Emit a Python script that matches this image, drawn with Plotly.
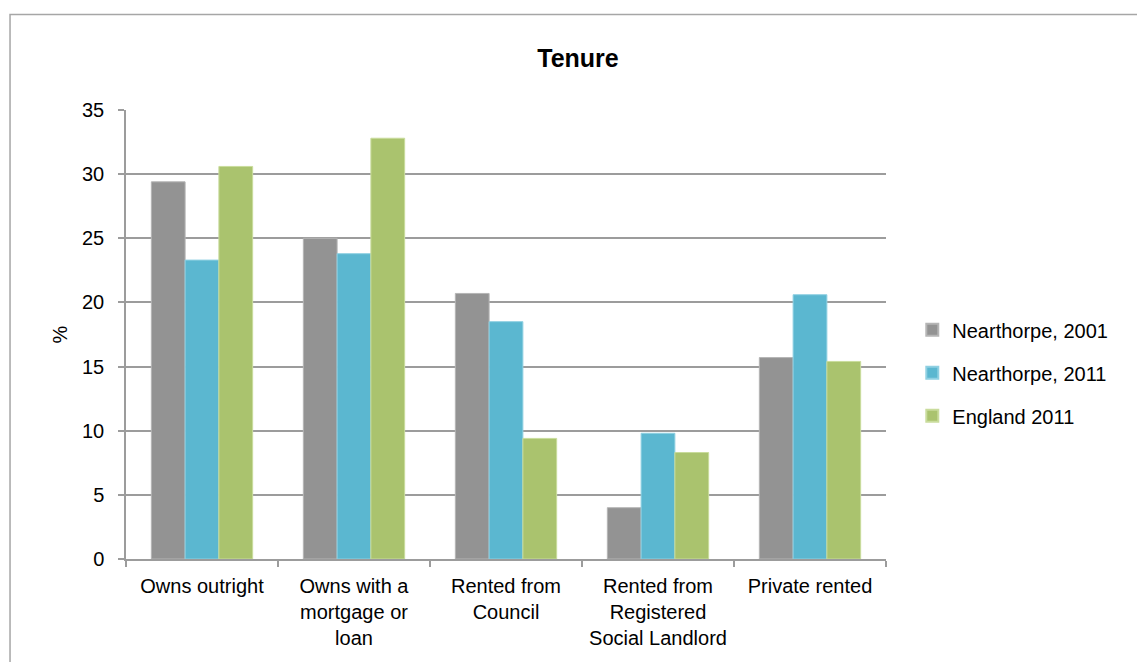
import plotly.graph_objects as go

categories = [
    "Owns outright",
    "Owns with a<br>mortgage or<br>loan",
    "Rented from<br>Council",
    "Rented from<br>Registered<br>Social Landlord",
    "Private rented",
]
nearthorpe_2001 = [29.4, 25.0, 20.7, 4.0, 15.7]
nearthorpe_2011 = [23.3, 23.8, 18.5, 9.8, 20.6]
england_2011 = [30.6, 32.8, 9.4, 8.3, 15.4]
y_ticks = [0, 5, 10, 15, 20, 25, 30, 35]

series = [
    ("Nearthorpe, 2001", nearthorpe_2001, "#939393", "#b5b5b5"),
    ("Nearthorpe, 2011", nearthorpe_2011, "#5bb7d0", "#8fd0e2"),
    ("England 2011", england_2011, "#aac36e", "#c9dc9c"),
]

W, H = 1137, 662
L, R, T, B = 125.5, 885.7, 110, 559.4
grid = "#9c9c9c"
font = "Liberation Sans, Arial, sans-serif"

fig = go.Figure()
for i, (name, vals, col, edge) in enumerate(series):
    fig.add_trace(go.Bar(
        x=categories, y=vals, name=name, legendgroup=str(i),
        marker=dict(color=col, line=dict(color=edge, width=1)),
    ))

# chart border (left + top visible, rest runs off the picture)
fig.add_shape(type="rect", xref="paper", yref="paper",
              x0=(9.5 - L) / (R - L), x1=(W + 20 - L) / (R - L),
              y0=(B - (H + 20)) / (B - T), y1=(B - 14.5) / (B - T),
              line=dict(color="#a6a6a6", width=1.5), layer="below")

fig.update_layout(
    width=W, height=H,
    margin=dict(l=L, r=W - R, t=T, b=H - B, autoexpand=False),
    paper_bgcolor="white", plot_bgcolor="white",
    barmode="group", bargap=1/3, bargroupgap=0,
    font=dict(family=font, size=20, color="black"),
    title=dict(text="<b>Tenure</b>", font=dict(size=25, color="black"),
               xref="container", x=578 / W, xanchor="center",
               yref="container", y=1 - 58 / H, yanchor="middle"),
    legend=dict(x=(912 - L) / (R - L), xanchor="left",
                y=(B - 373) / (B - T), yanchor="middle",
                traceorder="grouped", tracegroupgap=14,
                font=dict(size=20), itemsizing="constant"),
    showlegend=True,
)
fig.update_yaxes(
    range=[0, 35], tickvals=y_ticks, showgrid=True, gridcolor=grid, gridwidth=1.5,
    showline=True, linecolor=grid, linewidth=1.5,
    ticks="outside", ticklen=6, tickcolor=grid, tickwidth=1.5,
    ticklabelstandoff=10, zeroline=False,
    title=dict(text="%", standoff=9, font=dict(size=20)),
)
fig.update_xaxes(
    showline=True, linecolor=grid, linewidth=1.5,
    ticks="outside", ticklen=6, tickcolor=grid, tickwidth=1.5,
    tickson="boundaries", ticklabelstandoff=8,
)

fig.write_html("out.html", config={"displayModeBar": False},
               post_script="document.body.style.margin='0';")
